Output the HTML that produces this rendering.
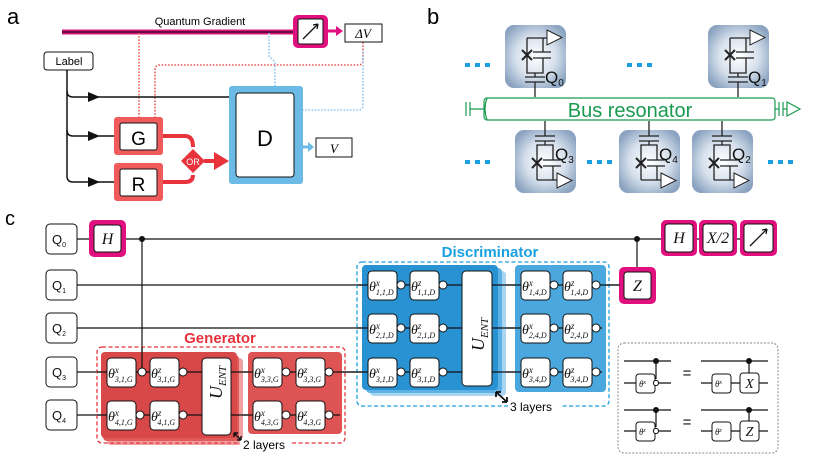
<!DOCTYPE html>
<html><head><meta charset="utf-8"><style>
html,body{margin:0;padding:0;background:#fff}
svg{display:block}
.s{font-family:"Liberation Sans",sans-serif}
.m{font-family:"Liberation Serif",serif;font-style:italic}
</style></head><body>
<svg width="830" height="467" viewBox="0 0 830 467" xmlns="http://www.w3.org/2000/svg">
<defs>
<radialGradient id="qg" cx="0.5" cy="0.5" r="0.6">
<stop offset="0" stop-color="#ffffff"/><stop offset="0.55" stop-color="#d6e0ec"/><stop offset="1" stop-color="#8aa3c0"/>
</radialGradient>
<g id="qtop">
<rect x="0" y="0" width="61" height="63" rx="9" fill="url(#qg)"/>
<g stroke="#222" stroke-width="1.3" fill="none">
<path d="M22 13V48H38V33M22 13H42M38 13V27"/>
<path d="M28 27H46M28 33H46"/>
<path d="M17 25L27 35M27 25L17 35" stroke-width="2"/>
<path d="M30 48V52M20 52H40M20 57H40M30 57V72"/>
<path d="M42 5L57 12.5L42 20Z" fill="#fff" stroke-width="1"/>
</g>
</g>
<g id="qbot">
<rect x="0" y="0" width="61" height="63" rx="9" fill="url(#qg)"/>
<g stroke="#222" stroke-width="1.3" fill="none">
<path d="M22 50V15H38V30M22 50H42M38 50V36"/>
<path d="M28 30H46M28 36H46"/>
<path d="M17 28L27 38M27 28L17 38" stroke-width="2"/>
<path d="M30 15V11M20 11H40M20 6H40M30 6V-9"/>
<path d="M42 43L57 50.5L42 58Z" fill="#fff" stroke-width="1"/>
</g>
</g>
</defs>

<!-- ========== panel a ========== -->
<text x="7" y="24" class="s" font-size="22">a</text>
<text x="200" y="25" class="s" font-size="11" text-anchor="middle">Quantum Gradient</text>
<line x1="62" y1="32" x2="296" y2="32" stroke="#e0107f" stroke-width="5"/>
<line x1="62" y1="32" x2="296" y2="32" stroke="#111" stroke-width="1.3"/>
<g fill="none" stroke-width="1.6" stroke-dasharray="1.6 1.6">
<path d="M139 33V118" stroke="#f05a5a"/>
<path d="M155 118V70Q155 65 160 65H358Q363 65 363 60V42" stroke="#f05a5a"/>
<path d="M269 33V56L275 62V86" stroke="#8fc6ee"/>
<path d="M302 110H358Q363 110 363 105V50" stroke="#8fc6ee"/>
</g>
<rect x="293" y="15" width="35" height="33" rx="5" fill="#e0107f"/>
<rect x="298" y="19" width="25" height="25" rx="2" fill="#fff" stroke="#111" stroke-width="1"/>
<path d="M303 39L318 24M318 24l-5 1M318 24l-1 5" stroke="#111" stroke-width="1.3" fill="none"/>
<path d="M328 31H337" stroke="#e0107f" stroke-width="3"/><path d="M336 26L343 31L336 36Z" fill="#e0107f"/>
<rect x="345" y="24" width="37" height="18" fill="#fff" stroke="#111" stroke-width="1"/>
<text x="363" y="38" class="m" font-size="13" text-anchor="middle">ΔV</text>
<rect x="44" y="52" width="49" height="18" rx="3" fill="#fff" stroke="#111" stroke-width="1"/>
<text x="69" y="65" class="s" font-size="11" text-anchor="middle">Label</text>
<g fill="none" stroke="#111" stroke-width="1.5">
<path d="M67 70V176Q67 182 73 182H116"/>
<path d="M67 91Q67 97 73 97H230"/>
<path d="M67 130Q67 136 73 136H116"/>
</g>
<path d="M88 92L100 97L88 102Z M88 131L100 136L88 141Z M88 177L100 182L88 187Z" fill="#111"/>
<rect x="114" y="117" width="49" height="38" rx="3" fill="#f05a5a"/>
<rect x="120" y="123" width="37" height="27" rx="2" fill="#fff" stroke="#111" stroke-width="1"/>
<text x="138.5" y="145" class="s" font-size="19" text-anchor="middle">G</text>
<rect x="114" y="163" width="49" height="38" rx="3" fill="#f05a5a"/>
<rect x="120" y="169" width="37" height="27" rx="2" fill="#fff" stroke="#111" stroke-width="1"/>
<text x="138.5" y="191" class="s" font-size="19" text-anchor="middle">R</text>
<path d="M163 136H185Q193 136 193 147M163 182H185Q193 182 193 175" fill="none" stroke="#e8323c" stroke-width="4"/>
<path d="M193 149L205 161L193 173L181 161Z" fill="#e8323c"/>
<text x="193" y="165" class="s" font-size="9" fill="#fff" text-anchor="middle">OR</text>
<path d="M204 161H216" stroke="#e8323c" stroke-width="4"/><path d="M214 152L229 161L214 170Z" fill="#e8323c"/>
<rect x="229" y="86" width="74" height="98" rx="3" fill="#6cbbe6"/>
<rect x="236" y="93" width="58" height="84" rx="3" fill="#fff" stroke="#111" stroke-width="1"/>
<text x="265" y="146" class="s" font-size="22" text-anchor="middle">D</text>
<path d="M302 147H309" stroke="#6cbbe6" stroke-width="3"/><path d="M308 142L314 147L308 152Z" fill="#6cbbe6"/>
<rect x="316" y="138" width="36" height="19" fill="#fff" stroke="#111" stroke-width="1"/>
<text x="334" y="153" class="m" font-size="13" text-anchor="middle">V</text>

<!-- ========== panel b ========== -->
<text x="427" y="24" class="s" font-size="22">b</text>
<g fill="#1aa0e0">
<rect x="465" y="63" width="5" height="4"/><rect x="475" y="63" width="5" height="4"/><rect x="485" y="63" width="5" height="4"/>
<rect x="627" y="63" width="5" height="4"/><rect x="637" y="63" width="5" height="4"/><rect x="647" y="63" width="5" height="4"/>
<rect x="465" y="160" width="5" height="4"/><rect x="475" y="160" width="5" height="4"/><rect x="485" y="160" width="5" height="4"/>
<rect x="587" y="160" width="5" height="4"/><rect x="597" y="160" width="5" height="4"/><rect x="607" y="160" width="5" height="4"/>
<rect x="768" y="160" width="5" height="4"/><rect x="778" y="160" width="5" height="4"/><rect x="788" y="160" width="5" height="4"/>
</g>
<use href="#qtop" x="505" y="25"/><use href="#qtop" x="708" y="25"/>
<use href="#qbot" x="515" y="130"/><use href="#qbot" x="619" y="130"/><use href="#qbot" x="692" y="130"/>
<g class="s" font-size="17" fill="#111">
<text x="545" y="83">Q<tspan font-size="10" dy="3">0</tspan></text>
<text x="748" y="83">Q<tspan font-size="10" dy="3">1</tspan></text>
<text x="555" y="160">Q<tspan font-size="10" dy="3">3</tspan></text>
<text x="659" y="160">Q<tspan font-size="10" dy="3">4</tspan></text>
<text x="732" y="160">Q<tspan font-size="10" dy="3">2</tspan></text>
</g>
<g stroke="#1a9a50" stroke-width="1.2" fill="none">
<rect x="484" y="98" width="291" height="22" rx="3" fill="#fff"/>
<path d="M487 98Q483 109 487 120"/>
<path d="M466 102V116M470 102V116M470 109H484"/>
<path d="M775 109H779M779 102V116M783 102V116M783 109H787M787 102L800 109L787 116Z"/>
</g>
<text x="630" y="117" class="s" font-size="20" fill="#1a9a50" text-anchor="middle">Bus resonator</text>

<!-- ========== panel c ========== -->
<text x="5" y="225" class="s" font-size="20">c</text>
<g stroke="#111" stroke-width="1.2">
<line x1="77" y1="239" x2="760" y2="239"/>
<line x1="77" y1="285" x2="620" y2="285"/>
<line x1="77" y1="328" x2="602" y2="328"/>
<line x1="77" y1="372" x2="602" y2="372"/>
<line x1="77" y1="415" x2="340" y2="415"/>
<line x1="142" y1="239" x2="142" y2="372"/>
<line x1="637" y1="239" x2="637" y2="270"/>
</g>
<circle cx="142" cy="239" r="3" fill="#111"/><circle cx="637" cy="239" r="3" fill="#111"/>
<g fill="#fff" stroke="#111" stroke-width="1">
<rect x="46" y="224" width="31" height="30" rx="4"/>
<rect x="46" y="270" width="31" height="30" rx="4"/>
<rect x="46" y="313" width="31" height="30" rx="4"/>
<rect x="46" y="357" width="31" height="30" rx="4"/>
<rect x="46" y="400" width="31" height="30" rx="4"/>
</g>
<g class="s" font-size="13" fill="#111" text-anchor="middle">
<text x="59" y="244">Q<tspan font-size="7" dy="3">0</tspan></text>
<text x="59" y="290">Q<tspan font-size="7" dy="3">1</tspan></text>
<text x="59" y="333">Q<tspan font-size="7" dy="3">2</tspan></text>
<text x="59" y="377">Q<tspan font-size="7" dy="3">3</tspan></text>
<text x="59" y="420">Q<tspan font-size="7" dy="3">4</tspan></text>
</g>
<g fill="#e0107f">
<rect x="89" y="220" width="37" height="37" rx="5"/>
<rect x="619" y="267" width="37" height="37" rx="5"/>
<rect x="661" y="220" width="36" height="36" rx="5"/>
<rect x="699" y="220" width="38" height="36" rx="5"/>
<rect x="740" y="220" width="37" height="36" rx="5"/>
</g>
<g fill="#fff" stroke="#111" stroke-width="1">
<rect x="94" y="225" width="27" height="27" rx="3"/>
<rect x="624" y="272" width="27" height="27" rx="3"/>
<rect x="665" y="224" width="28" height="28" rx="3"/>
<rect x="703" y="224" width="30" height="28" rx="3"/>
<rect x="744" y="224" width="29" height="28" rx="3"/>
</g>
<g class="m" font-size="16" text-anchor="middle" fill="#111">
<text x="107.5" y="244">H</text><text x="637.5" y="291">Z</text>
<text x="679" y="243">H</text><text x="718" y="243">X/2</text>
</g>
<path d="M750 246L767 229M767 229l-5 1M767 229l-1 5" stroke="#111" stroke-width="1.3" fill="none"/>

<text x="220" y="343" class="s" font-size="15" font-weight="bold" fill="#e8323c" text-anchor="middle">Generator</text>
<rect x="107" y="358" width="136" height="87" rx="4" fill="#f0a0a0"/>
<rect x="103" y="355" width="136" height="86" rx="4" fill="#e05a5a"/>
<rect x="101" y="352" width="136" height="86" rx="4" fill="#d84848"/>
<rect x="248" y="352" width="94" height="82" rx="4" fill="#de5454"/>
<rect x="97" y="347" width="248" height="96" rx="5" fill="none" stroke="#e8323c" stroke-width="1.3" stroke-dasharray="4 2.5"/>
<text x="490" y="257" class="s" font-size="15" font-weight="bold" fill="#1aa0e0" text-anchor="middle">Discriminator</text>
<rect x="370" y="271" width="136" height="125" rx="4" fill="#a8d6f2"/>
<rect x="366" y="268" width="136" height="125" rx="4" fill="#5cb2e4"/>
<rect x="362" y="265" width="136" height="125" rx="4" fill="#2892d2"/>
<rect x="515" y="265" width="91" height="127" rx="4" fill="#4aa8de"/>
<rect x="357" y="262" width="252" height="144" rx="5" fill="none" stroke="#1aa0e0" stroke-width="1.3" stroke-dasharray="4 2.5"/>
<g stroke="#111" stroke-width="1.2">
<line x1="97" y1="372" x2="602" y2="372"/>
<line x1="97" y1="415" x2="340" y2="415"/>
<line x1="357" y1="285" x2="620" y2="285"/>
<line x1="357" y1="328" x2="602" y2="328"/>
<line x1="142" y1="347" x2="142" y2="372"/>
</g>
<circle cx="142" cy="372" r="4" fill="#fff" stroke="#111"/>
<g fill="#fff" stroke="#111" stroke-width="1">
<rect x="107" y="358" width="29" height="29" rx="4"/><rect x="150" y="358" width="29" height="29" rx="4"/>
<rect x="107" y="401" width="29" height="29" rx="4"/><rect x="150" y="401" width="29" height="29" rx="4"/>
<rect x="202" y="358" width="29" height="77" rx="4"/>
<rect x="253" y="358" width="29" height="29" rx="4"/><rect x="296" y="358" width="29" height="29" rx="4"/>
<rect x="253" y="401" width="29" height="29" rx="4"/><rect x="296" y="401" width="29" height="29" rx="4"/>
<rect x="368" y="271" width="29" height="29" rx="4"/><rect x="410" y="271" width="29" height="29" rx="4"/>
<rect x="368" y="314" width="29" height="29" rx="4"/><rect x="410" y="314" width="29" height="29" rx="4"/>
<rect x="368" y="358" width="29" height="29" rx="4"/><rect x="410" y="358" width="29" height="29" rx="4"/>
<rect x="462" y="271" width="30" height="115" rx="4"/>
<rect x="521" y="271" width="29" height="29" rx="4"/><rect x="563" y="271" width="29" height="29" rx="4"/>
<rect x="521" y="314" width="29" height="29" rx="4"/><rect x="563" y="314" width="29" height="29" rx="4"/>
<rect x="521" y="358" width="29" height="29" rx="4"/><rect x="563" y="358" width="29" height="29" rx="4"/>
<circle cx="140" cy="415" r="4"/><circle cx="183" cy="372" r="4"/><circle cx="183" cy="415" r="4"/>
<circle cx="286" cy="372" r="4"/><circle cx="329" cy="372" r="4"/><circle cx="286" cy="415" r="4"/><circle cx="329" cy="415" r="4"/>
<circle cx="401" cy="285" r="4"/><circle cx="443" cy="285" r="4"/><circle cx="401" cy="328" r="4"/><circle cx="443" cy="328" r="4"/><circle cx="401" cy="372" r="4"/><circle cx="443" cy="372" r="4"/>
<circle cx="554" cy="285" r="4"/><circle cx="596" cy="285" r="4"/><circle cx="554" cy="328" r="4"/><circle cx="596" cy="328" r="4"/><circle cx="554" cy="372" r="4"/><circle cx="596" cy="372" r="4"/>
</g>
<g class="m" fill="#111" font-size="14">
<text x="108" y="378">θ<tspan font-size="9" dy="-5">x</tspan><tspan font-size="8" dx="-4" dy="9">3,1,G</tspan></text>
<text x="151" y="378">θ<tspan font-size="9" dy="-5">z</tspan><tspan font-size="8" dx="-4" dy="9">3,1,G</tspan></text>
<text x="108" y="421">θ<tspan font-size="9" dy="-5">x</tspan><tspan font-size="8" dx="-4" dy="9">4,1,G</tspan></text>
<text x="151" y="421">θ<tspan font-size="9" dy="-5">z</tspan><tspan font-size="8" dx="-4" dy="9">4,1,G</tspan></text>
<text x="254" y="378">θ<tspan font-size="9" dy="-5">x</tspan><tspan font-size="8" dx="-4" dy="9">3,3,G</tspan></text>
<text x="297" y="378">θ<tspan font-size="9" dy="-5">z</tspan><tspan font-size="8" dx="-4" dy="9">3,3,G</tspan></text>
<text x="254" y="421">θ<tspan font-size="9" dy="-5">x</tspan><tspan font-size="8" dx="-4" dy="9">4,3,G</tspan></text>
<text x="297" y="421">θ<tspan font-size="9" dy="-5">z</tspan><tspan font-size="8" dx="-4" dy="9">4,3,G</tspan></text>
<text x="369" y="291">θ<tspan font-size="9" dy="-5">x</tspan><tspan font-size="8" dx="-4" dy="9">1,1,D</tspan></text>
<text x="411" y="291">θ<tspan font-size="9" dy="-5">z</tspan><tspan font-size="8" dx="-4" dy="9">1,1,D</tspan></text>
<text x="369" y="334">θ<tspan font-size="9" dy="-5">x</tspan><tspan font-size="8" dx="-4" dy="9">2,1,D</tspan></text>
<text x="411" y="334">θ<tspan font-size="9" dy="-5">z</tspan><tspan font-size="8" dx="-4" dy="9">2,1,D</tspan></text>
<text x="369" y="378">θ<tspan font-size="9" dy="-5">x</tspan><tspan font-size="8" dx="-4" dy="9">3,1,D</tspan></text>
<text x="411" y="378">θ<tspan font-size="9" dy="-5">z</tspan><tspan font-size="8" dx="-4" dy="9">3,1,D</tspan></text>
<text x="522" y="291">θ<tspan font-size="9" dy="-5">x</tspan><tspan font-size="8" dx="-4" dy="9">1,4,D</tspan></text>
<text x="564" y="291">θ<tspan font-size="9" dy="-5">z</tspan><tspan font-size="8" dx="-4" dy="9">1,4,D</tspan></text>
<text x="522" y="334">θ<tspan font-size="9" dy="-5">x</tspan><tspan font-size="8" dx="-4" dy="9">2,4,D</tspan></text>
<text x="564" y="334">θ<tspan font-size="9" dy="-5">z</tspan><tspan font-size="8" dx="-4" dy="9">2,4,D</tspan></text>
<text x="522" y="378">θ<tspan font-size="9" dy="-5">x</tspan><tspan font-size="8" dx="-4" dy="9">3,4,D</tspan></text>
<text x="564" y="378">θ<tspan font-size="9" dy="-5">z</tspan><tspan font-size="8" dx="-4" dy="9">3,4,D</tspan></text>
<text transform="translate(222 399) rotate(-90)" font-size="18">U<tspan font-size="11" dy="4">ENT</tspan></text>
<text transform="translate(484 351) rotate(-90)" font-size="18">U<tspan font-size="11" dy="4">ENT</tspan></text>
</g>
<rect x="240" y="438" width="52" height="12" fill="#fff"/>
<path d="M234 433L241 440M234 433v4M234 433h4M241 440v-4M241 440h-4" stroke="#111" stroke-width="1.5" fill="none"/>
<text x="243" y="449" class="s" font-size="12">2 layers</text>
<rect x="508" y="400" width="54" height="12" fill="#fff"/>
<path d="M496 392L507 402M496 392v5M496 392h5M507 402v-5M507 402h-5" stroke="#111" stroke-width="1.8" fill="none"/>
<text x="510" y="411" class="s" font-size="12">3 layers</text>

<rect x="618" y="343" width="160" height="110" rx="6" fill="none" stroke="#888" stroke-width="1" stroke-dasharray="2 1.5"/>
<g stroke="#111" stroke-width="1.2" fill="none">
<path d="M624 361H671M624 383H671M656 361V379"/>
<path d="M701 361H768M701 383H768M749 361V373"/>
<path d="M624 410H671M624 431H671M656 410V427"/>
<path d="M701 410H768M701 431H768M749 410V421"/>
</g>
<g fill="#fff" stroke="#111" stroke-width="1">
<rect x="636" y="374" width="19" height="19" rx="3"/><circle cx="656" cy="383" r="2.6"/>
<rect x="712" y="374" width="19" height="19" rx="3"/><rect x="740" y="373" width="19" height="20" rx="3"/>
<rect x="636" y="422" width="19" height="19" rx="3"/><circle cx="656" cy="431" r="2.6"/>
<rect x="712" y="422" width="19" height="19" rx="3"/><rect x="740" y="421" width="19" height="20" rx="3"/>
</g>
<g fill="#111"><circle cx="656" cy="361" r="3"/><circle cx="749" cy="361" r="3"/><circle cx="656" cy="410" r="3"/><circle cx="749" cy="410" r="3"/></g>
<g class="m" font-size="9" fill="#111">
<text x="639" y="387">θ<tspan font-size="6" dy="-3">x</tspan></text>
<text x="715" y="387">θ<tspan font-size="6" dy="-3">x</tspan></text>
<text x="639" y="435">θ<tspan font-size="6" dy="-3">z</tspan></text>
<text x="715" y="435">θ<tspan font-size="6" dy="-3">z</tspan></text>
<text x="749.5" y="388" font-size="14" text-anchor="middle">X</text>
<text x="749.5" y="436" font-size="14" text-anchor="middle">Z</text>
</g>
<g class="s" font-size="15" fill="#111" text-anchor="middle"><text x="687" y="378">=</text><text x="687" y="427">=</text></g>
</svg>
</body></html>
